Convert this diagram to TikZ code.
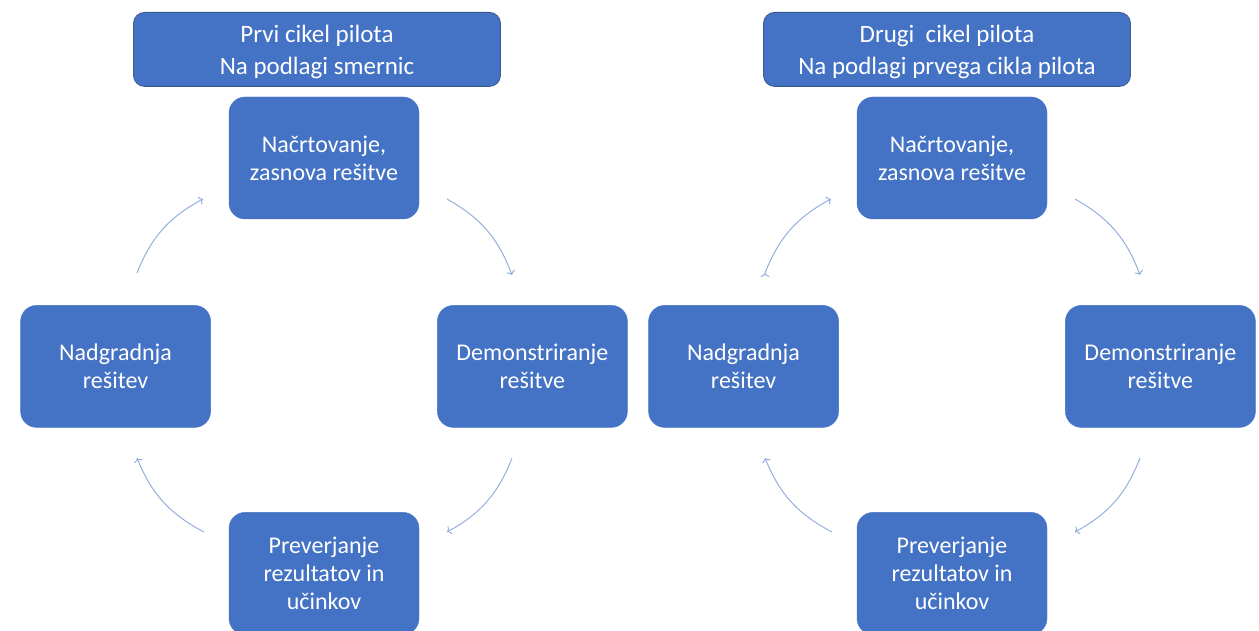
\documentclass[tikz,border=0pt]{standalone}
\usepackage{fontspec}
\setmainfont{Carlito}
\usepackage{xcolor}
\usetikzlibrary{positioning,arrows.meta}
\definecolor{boxblue}{HTML}{4472C4}
\definecolor{headline}{HTML}{3A5A8E}
\definecolor{arrowblue}{HTML}{95AEDE}

\begin{document}
\begin{tikzpicture}[x=1pt,y=1pt,->,>={To[length=4pt,width=9pt]},node distance=10pt,
                    main node/.style={rectangle,rounded corners=16pt,draw=boxblue,fill=boxblue,
                      text=white,align=center,minimum width=190pt,minimum height=122pt,
                      inner sep=2pt,font=\fontsize{24}{28}\selectfont},
                    head node/.style={rectangle,rounded corners=11pt,draw=headline,line width=0.8pt,
                      fill=boxblue,text=white,align=center,minimum width=367pt,minimum height=74pt,
                      inner sep=2pt,text depth=0pt,font=\fontsize{25}{32}\selectfont},
                    cycle arrow/.style={draw=arrowblue,line width=1pt,bend left=20}]

  \useasboundingbox (0,0) rectangle (1259,-631);

  % first cycle
  \node[main node] (l-top) at (324,-158) {Načrtovanje,\\zasnova rešitve};
  \node[main node] (l-right) [below right=86pt and 18pt of l-top] {Demonstriranje\\rešitve};
  \node[main node] (l-left) [below left=86pt and 18pt of l-top] {Nadgradnja\\rešitev};
  \node[main node] (l-bottom) [below=293pt of l-top] {Preverjanje\\rezultatov in\\učinkov};
  \node[head node] (l-head) [above=10pt of l-top,xshift=-7pt] {Prvi cikel pilota\\Na podlagi smernic};

  % second cycle
  \node[main node] (r-top) at (952,-158) {Načrtovanje,\\zasnova rešitve};
  \node[main node] (r-right) [below right=86pt and 18pt of r-top] {Demonstriranje\\rešitve};
  \node[main node] (r-left) [below left=86pt and 18pt of r-top] {Nadgradnja\\rešitev};
  \node[main node] (r-bottom) [below=293pt of r-top] {Preverjanje\\rezultatov in\\učinkov};
  \node[head node] (r-head) [above=10pt of r-top,xshift=-5pt] {Drugi\ \ cikel pilota\\Na podlagi prvega cikla pilota};

  % arrow ends
  \coordinate (l1a) at (447,-199);  \coordinate (l1b) at (512,-275);
  \coordinate (l2a) at (512,-458);  \coordinate (l2b) at (447,-532);
  \coordinate (l3a) at (204,-532);  \coordinate (l3b) at (137,-458);
  \coordinate (l4a) at (137,-273);  \coordinate (l4b) at (203,-199);

  \coordinate (r1a) at (1075,-199); \coordinate (r1b) at (1140,-275);
  \coordinate (r2a) at (1140,-458); \coordinate (r2b) at (1075,-532);
  \coordinate (r3a) at (832,-532);  \coordinate (r3b) at (765,-458);
  \coordinate (r4a) at (765,-273);  \coordinate (r4b) at (831,-199);

  \path[cycle arrow]
    (l1a) edge (l1b)
    (l2a) edge (l2b)
    (l3a) edge (l3b)
    (l4a) edge (l4b)
    (r1a) edge (r1b)
    (r2a) edge (r2b)
    (r3a) edge (r3b)
    (r4a) edge (r4b);
\end{tikzpicture}
\end{document}
